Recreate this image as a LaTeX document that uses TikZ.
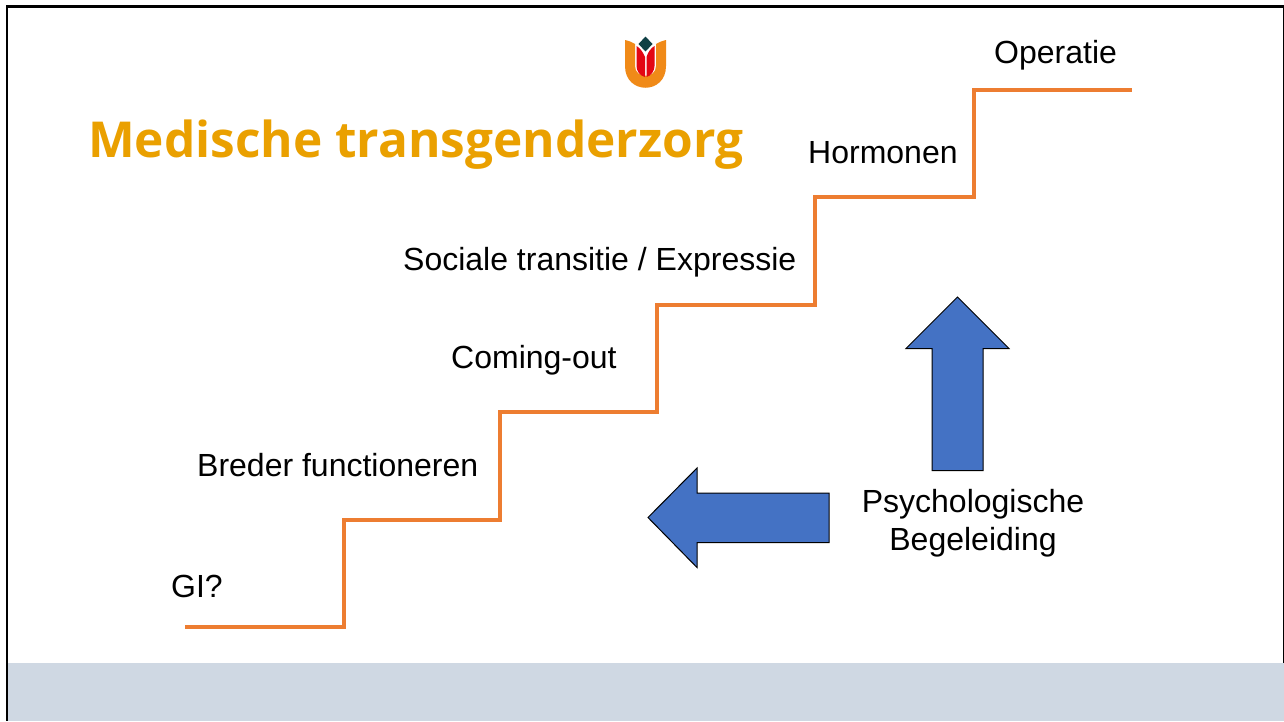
\documentclass[tikz,border=0pt]{standalone}
\usepackage{fontspec}
\setmainfont{Liberation Sans}
\newfontfamily\titlefont{Open Sans}
\definecolor{bandblue}{HTML}{CFD8E3}
\definecolor{stairorange}{HTML}{ED7D31}
\definecolor{arrowblue}{HTML}{4472C4}
\definecolor{titleorange}{HTML}{EAA000}
\definecolor{logoorange}{HTML}{F08A18}
\definecolor{logored}{HTML}{E30613}
\definecolor{logodark}{HTML}{0F4045}
\tikzset{
  lbl/.style={inner sep=0pt,font=\fontsize{32}{38}\selectfont,text=black,align=center},
  stair/.style={draw=stairorange,line width=3.4pt,line join=miter},
  bigarrow/.style={draw=black,line width=1pt,fill=arrowblue}
}
\begin{document}
\begin{tikzpicture}[x=1pt,y=-1pt]
\useasboundingbox (0,0) rectangle (1284,721);
\fill[white] (0,0) rectangle (1284,721);
\fill[bandblue] (8,663) rectangle (1284,721);
\fill[black] (6,5) rectangle (1284,7.6);
\fill[black] (6,5) rectangle (8.4,721);
\fill[black] (1282.6,5) rectangle (1284,663);
% logo
\fill[logoorange] (625,40) .. controls (629,41) and (632,42) .. (635,44) -- (635,66) .. controls (635,79) and (656,79) .. (656,66) -- (656,44) .. controls (659,42) and (662,41) .. (666,40) -- (666,66) .. controls (666,95) and (625,95) .. (625,66) -- cycle;
\fill[logored] (636.5,46) .. controls (640,48) and (643,52) .. (645,57) -- (645,77) .. controls (640,76) and (636.5,71) .. (636.5,66) -- cycle;
\fill[logored] (654.5,46) .. controls (651,48) and (648,52) .. (646.5,57) -- (646.5,77) .. controls (651,76) and (654.5,71) .. (654.5,66) -- cycle;
\fill[logodark] (645.5,36.5) -- (652.5,44) -- (645.5,51.5) -- (638.5,44) -- cycle;
% title
\node[inner sep=0pt,anchor=base west,text=titleorange] (title) at (88,157) {\resizebox{655pt}{!}{\titlefont\bfseries\fontsize{52}{60}\selectfont Medische transgenderzorg}};
% stair
\coordinate (s0) at (185,627);
\coordinate (s1) at (344,627);
\coordinate (s2) at (344,520);
\coordinate (s3) at (500,520);
\coordinate (s4) at (500,412);
\coordinate (s5) at (657,412);
\coordinate (s6) at (657,305);
\coordinate (s7) at (815,305);
\coordinate (s8) at (815,197);
\coordinate (s9) at (974,197);
\coordinate (s10) at (974,90);
\coordinate (s11) at (1132,90);
\draw[stair] (s0) -- (s1) -- (s2) -- (s3) -- (s4) -- (s5) -- (s6) -- (s7) -- (s8) -- (s9) -- (s10) -- (s11);
% labels
\node[lbl,anchor=base west] (gi) at (171,597) {GI?};
\node[lbl,anchor=base west] (breder) at (197,476) {Breder functioneren};
\node[lbl,anchor=base west] (coming) at (451,368) {Coming-out};
\node[lbl,anchor=base west] (sociale) at (403,270) {Sociale transitie / Expressie};
\node[lbl,anchor=base west] (hormonen) at (808,163) {Hormonen};
\node[lbl,anchor=base west] (operatie) at (994,63) {Operatie};
\node[lbl] (psy) at (973,523) {Psychologische\\Begeleiding};
% arrows
\draw[bigarrow] (957.5,297) -- (1009,348.5) -- (983,348.5) -- (983,470.5) -- (932,470.5) -- (932,348.5) -- (906,348.5) -- cycle;
\draw[bigarrow] (648,517.5) -- (697,468) -- (697,493) -- (829,493) -- (829,542.5) -- (697,542.5) -- (697,567.5) -- cycle;
\end{tikzpicture}
\end{document}
